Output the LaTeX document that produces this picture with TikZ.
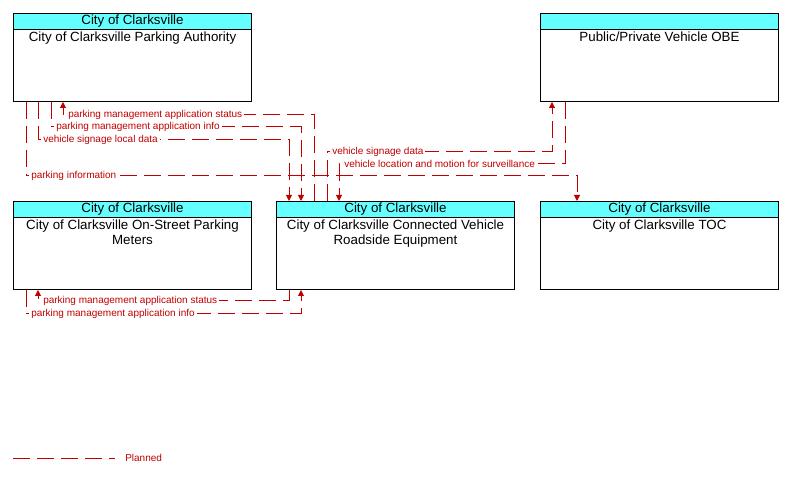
\documentclass[tikz,border=0pt]{standalone}
\usepackage{fontspec}
\setmainfont{Liberation Sans}
\usepackage{tikz}
\usetikzlibrary{calc,positioning,arrows.meta,shapes}

\definecolor{flowred}{RGB}{192,0,0}
\definecolor{headcyan}{RGB}{102,255,255}

\tikzset{
  box/.style={draw, line width=0.75pt, anchor=north west, minimum width=178.5pt,
    minimum height=66pt, inner sep=0pt},
  head/.style={draw, fill=headcyan, line width=0.75pt, anchor=north, minimum width=178.5pt,
    minimum height=12pt, inner sep=0pt, font=\fontsize{10}{11}\selectfont},
  body/.style={align=center, inner sep=0pt, font=\fontsize{10}{11.25}\selectfont},
  planned/.style={draw=flowred, line width=0.75pt, dash pattern=on 13pt off 5pt},
  flowlabel/.style={anchor=west, fill=white, text=flowred, inner xsep=1.5pt,
    inner ysep=0.5pt, font=\fontsize{7.5}{9}\selectfont},
}

\begin{document}
\begin{tikzpicture}[x=0.75pt, y=-0.75pt, >={Triangle[length=4.5pt,width=4.5pt]}]
\useasboundingbox (0,0) rectangle (789,477);

% boxes
\node[box] (pa) at (13,13) {};
\node[head] (paHead) at (pa.north) {City of Clarksville};
\node[body, below=1.5pt of paHead] (paName) {City of Clarksville Parking Authority};

\node[box] (obe) at (540,13) {};
\node[head] (obeHead) at (obe.north) {};
\node[body, below=1.5pt of obeHead] (obeName) {Public/Private Vehicle OBE};

\node[box] (meters) at (13,201) {};
\node[head] (metersHead) at (meters.north) {City of Clarksville};
\node[body, below=1.5pt of metersHead] (metersName) {City of Clarksville On-Street Parking\\Meters};

\node[box] (rse) at (276,201) {};
\node[head] (rseHead) at (rse.north) {City of Clarksville};
\node[body, below=1.5pt of rseHead] (rseName) {City of Clarksville Connected Vehicle\\Roadside Equipment};

\node[box] (toc) at (540,201) {};
\node[head] (tocHead) at (toc.north) {City of Clarksville};
\node[body, below=1.5pt of tocHead] (tocName) {City of Clarksville TOC};

% parking information
\draw[planned,->] (26,0 |- pa.south) -- (26,176) -- (577,176) -- (577,0 |- toc.north);
\node[flowlabel] (lblInfo) at (29,176) {parking information};

% vehicle signage local data
\draw[planned,->] (38,0 |- pa.south) -- (38,140) -- (289,140) -- (289,0 |- rse.north);
\node[flowlabel] (lblLocal) at (41,140) {vehicle signage local data};

% parking management application info
\draw[planned,->] (51,0 |- pa.south) -- (51,127) -- (301,127) -- (301,0 |- rse.north);
\node[flowlabel] (lblAppInfo) at (54,127) {parking management application info};

% parking management application status
\draw[planned,->] (314,0 |- rse.north) -- (314,115) -- (63,115) -- (63,0 |- pa.south);
\node[flowlabel] (lblAppStatus) at (66,115) {parking management application status};

% vehicle signage data
\draw[planned,->] (327,0 |- rse.north) -- (327,152) -- (552,152) -- (552,0 |- obe.south);
\node[flowlabel] (lblSign) at (330,152) {vehicle signage data};

% vehicle location and motion for surveillance
\draw[planned,->] (565,0 |- obe.south) -- (565,164) -- (339,164) -- (339,0 |- rse.north);
\node[flowlabel] (lblMotion) at (342,164) {vehicle location and motion for surveillance};

% meters status
\draw[planned,->] (289,0 |- rse.south) -- (289,301) -- (38,301) -- (38,0 |- meters.south);
\node[flowlabel] (lblMetStatus) at (41,301) {parking management application status};

% meters info
\draw[planned,->] (26,0 |- meters.south) -- (26,314) -- (301,314) -- (301,0 |- rse.south);
\node[flowlabel] (lblMetInfo) at (29,314) {parking management application info};

% legend
\coordinate (legA) at (13,458);
\coordinate (legB) at (115,458);
\draw[planned] (legA) -- (legB);
\node[flowlabel] (legText) at (123,458) {Planned};

\end{tikzpicture}
\end{document}
